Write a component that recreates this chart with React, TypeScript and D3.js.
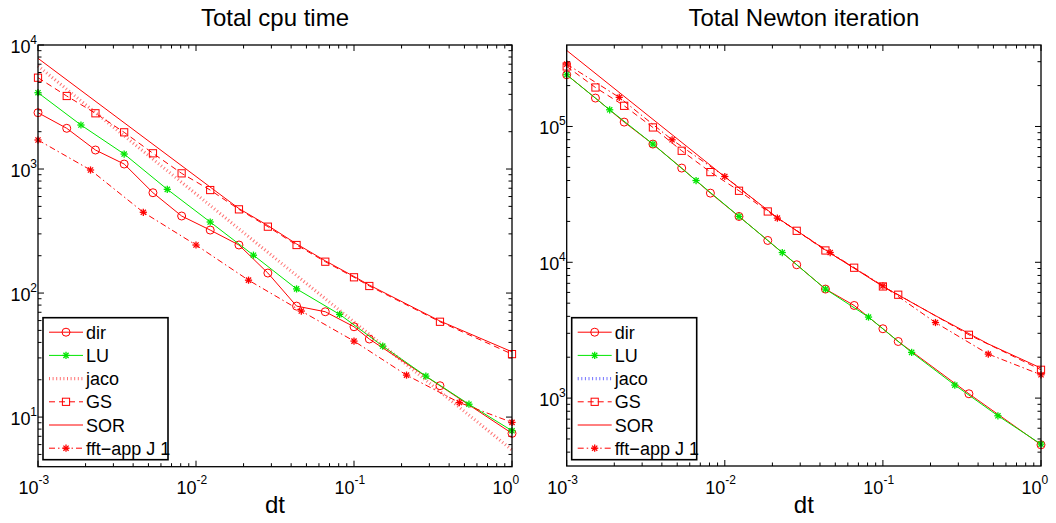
import React, { useEffect, useRef } from 'react';
import * as d3 from 'd3';

// dt grids used by the runs
const dtA = [0.001, 0.00152, 0.00231, 0.00351, 0.00534, 0.00811, 0.0123, 0.0187, 0.0285, 0.0433, 0.0658, 0.1, 0.125, 0.35, 1];
const dtB = [0.001, 0.00187, 0.00351, 0.00658, 0.0123, 0.0231, 0.0433, 0.0811, 0.152, 0.285, 0.534, 1];
const dtC = [0.001, 0.00215, 0.00464, 0.01, 0.0215, 0.0464, 0.1, 0.215, 0.464, 1];
const dtSorCpu = [0.001, 0.0187, 0.0285, 0.0433, 0.0658, 0.1, 0.125, 0.35, 1];
const dtSorNewton = [0.001, 0.01, 0.0215, 0.0464, 0.1, 0.215, 0.464, 1];

// Total cpu time
const cpuDir = [2845, 2130, 1423, 1097, 644, 418, 322, 244, 145, 78.5, 70.7, 53.5, 42.6, 17.9, 7.39];
const cpuLU = [4125, 2264, 1321, 686, 374, 202, 108, 67.3, 37.4, 21.4, 12.7, 7.76];
const cpuJaco = [6780, 3070, 1390, 630, 285, 129, 58.5, 26.5, 12.0, 5.43];
const cpuGS = [5450, 3880, 2815, 1977, 1339, 923, 677, 473, 343, 244, 179, 134, 114, 58.7, 32.2];
const cpuSOR = [7810, 480, 350, 249, 182, 136, 116, 59.5, 33.6];
const cpuFFT = [1714, 982, 448, 244, 127, 71.6, 41.0, 21.8, 13.1, 9.06];

// Total Newton iteration
const newDir = [240400, 161900, 107700, 74200, 49400, 32300, 21750, 14480, 9590, 6350, 4810, 3240, 2610, 1076, 453];
const newLU = [240400, 132700, 74200, 40000, 21750, 11800, 6350, 3950, 2170, 1247, 741, 458];
const newJaco: number[] = [];
const newGS = [276700, 193700, 142000, 98400, 66250, 46150, 33630, 23670, 17060, 12220, 9120, 6640, 5770, 2925, 1616];
const newSOR = [363000, 42600, 21300, 11680, 6640, 4045, 2505, 1663];
const newFFT = [288000, 163800, 79800, 42840, 21150, 11800, 6710, 3600, 2110, 1485];

const legendNames = ['dir', 'LU', 'jaco', 'GS', 'SOR', 'fft\u2212app J 1'];
const xTickExp = [-3, -2, -1, 0];

const RED = '#ff0000';
const GREEN = '#00e600';
const FONT = '"Liberation Sans", Arial, Helvetica, sans-serif';

function makeStyles(jacoColor) {
  return [
    { color: RED, dash: null, marker: 'circle', width: 1 },
    { color: GREEN, dash: null, marker: 'star', width: 1 },
    { color: jacoColor, dash: '1,2.6', marker: null, width: 3.2, opacity: 0.55 },
    { color: RED, dash: '6,4', marker: 'square', width: 1 },
    { color: RED, dash: null, marker: null, width: 1 },
    { color: RED, dash: '6,3,1.5,3', marker: 'star', width: 1 },
  ];
}

function drawMarker(g, type, x, y, color) {
  if (type === 'circle') {
    g.append('circle').attr('cx', x).attr('cy', y).attr('r', 4)
      .attr('fill', 'none').attr('stroke', color).attr('stroke-width', 1);
  } else if (type === 'square') {
    g.append('rect').attr('x', x - 3.6).attr('y', y - 3.6).attr('width', 7.2).attr('height', 7.2)
      .attr('fill', 'none').attr('stroke', color).attr('stroke-width', 1);
  } else if (type === 'star') {
    const r = 3.6, d = 2.6;
    const segs = [[-r, 0, r, 0], [0, -r, 0, r], [-d, -d, d, d], [-d, d, d, -d]];
    segs.forEach(s => {
      g.append('line').attr('x1', x + s[0]).attr('y1', y + s[1]).attr('x2', x + s[2]).attr('y2', y + s[3])
        .attr('stroke', color).attr('stroke-width', 1.3);
    });
  }
}

function drawPanel(svg, cfg) {
  const x = d3.scaleLog().domain([1e-3, 1]).range([cfg.left, cfg.right]);
  const y = d3.scaleLog().domain(cfg.yDomain).range([cfg.bottom, cfg.top]);
  const g = svg.append('g');

  // title
  g.append('text').attr('x', (cfg.left + cfg.right) / 2).attr('y', 26)
    .attr('text-anchor', 'middle').attr('font-size', 24).attr('font-family', FONT).text(cfg.title);

  // ticks on all four sides
  const tk = g.append('g').attr('stroke', '#000').attr('stroke-width', 1);
  for (let e = -3; e <= 0; e++) {
    for (let m = 1; m <= 9; m++) {
      const v = m * Math.pow(10, e);
      if (v > 1.0001) continue;
      const len = m === 1 ? 6 : 3.5;
      const px = x(v);
      tk.append('line').attr('x1', px).attr('x2', px).attr('y1', cfg.bottom).attr('y2', cfg.bottom - len);
      tk.append('line').attr('x1', px).attr('x2', px).attr('y1', cfg.top).attr('y2', cfg.top + len);
    }
  }
  const [y0, y1] = cfg.yDomain;
  for (let e = Math.floor(Math.log10(y0)); e <= Math.ceil(Math.log10(y1)); e++) {
    for (let m = 1; m <= 9; m++) {
      const v = m * Math.pow(10, e);
      if (v < y0 * 0.999 || v > y1 * 1.001) continue;
      const len = m === 1 ? 6 : 3.5;
      const py = y(v);
      tk.append('line').attr('x1', cfg.left).attr('x2', cfg.left + len).attr('y1', py).attr('y2', py);
      tk.append('line').attr('x1', cfg.right).attr('x2', cfg.right - len).attr('y1', py).attr('y2', py);
    }
  }

  // x tick labels
  xTickExp.forEach(e => {
    const px = x(Math.pow(10, e));
    g.append('text').attr('x', px + 0.5).attr('y', 494).attr('text-anchor', 'end')
      .attr('font-size', 18).attr('font-family', FONT).text('10');
    g.append('text').attr('x', px + 0.5).attr('y', 484).attr('text-anchor', 'start')
      .attr('font-size', 12).attr('font-family', FONT).text(String(e));
  });
  // y tick labels
  cfg.yTickExp.forEach(e => {
    const py = y(Math.pow(10, e));
    g.append('text').attr('x', cfg.left - 1).attr('y', py - 1).attr('text-anchor', 'end')
      .attr('font-size', 12).attr('font-family', FONT).text(String(e));
    g.append('text').attr('x', cfg.left - 7.5).attr('y', py + 8).attr('text-anchor', 'end')
      .attr('font-size', 18).attr('font-family', FONT).text('10');
  });

  // x label
  g.append('text').attr('x', (cfg.left + cfg.right) / 2).attr('y', 513)
    .attr('text-anchor', 'middle').attr('font-size', 24).attr('font-family', FONT).text('dt');

  // series
  const styles = makeStyles(cfg.jacoColor);
  const line = d3.line().x(d => x(d[0])).y(d => y(d[1]));
  const sg = g.append('g');
  cfg.series.forEach((s, i) => {
    const st = styles[i];
    const pts = s.dt.map((d, k) => [d, s.v[k]]).filter(p => p[1] !== undefined);
    if (!pts.length) return;
    const p = sg.append('path').attr('d', line(pts)).attr('fill', 'none')
      .attr('stroke', st.color).attr('stroke-width', st.width);
    if (st.dash) p.attr('stroke-dasharray', st.dash);
    if (st.opacity) p.attr('stroke-opacity', st.opacity);
    if (st.marker) pts.forEach(pt => drawMarker(sg, st.marker, x(pt[0]), y(pt[1]), st.color));
  });

  // box
  g.append('rect').attr('x', cfg.left).attr('y', cfg.top)
    .attr('width', cfg.right - cfg.left).attr('height', cfg.bottom - cfg.top)
    .attr('fill', 'none').attr('stroke', '#000').attr('stroke-width', 1.3);

  // legend
  const lx = cfg.left + 5, ly = 317.7, lw = 125, lh = 142;
  const lg = g.append('g');
  lg.append('rect').attr('x', lx).attr('y', ly).attr('width', lw).attr('height', lh)
    .attr('fill', '#fff').attr('stroke', '#000').attr('stroke-width', 1.6);
  legendNames.forEach((name, i) => {
    const st = styles[i];
    const ry = ly + 14.5 + i * 23.2;
    const l = lg.append('line').attr('x1', lx + 6).attr('x2', lx + 40).attr('y1', ry).attr('y2', ry)
      .attr('stroke', st.color).attr('stroke-width', st.width);
    if (st.dash) l.attr('stroke-dasharray', st.dash);
    if (st.opacity) l.attr('stroke-opacity', st.opacity);
    if (st.marker) drawMarker(lg, st.marker, lx + 23, ry, st.color);
    lg.append('text').attr('x', lx + 43).attr('y', ry + 6.5)
      .attr('font-size', 18).attr('font-family', FONT).text(name);
  });
}

export default function App() {
  const ref = useRef(null);
  useEffect(() => {
    const svg = d3.select(ref.current);
    svg.selectAll('*').remove();
    drawPanel(svg, {
      title: 'Total cpu time', left: 38, right: 512, top: 45, bottom: 466.7,
      yDomain: [Math.pow(10, 0.6), 1e4], yTickExp: [1, 2, 3, 4], jacoColor: RED,
      series: [
        { dt: dtA, v: cpuDir }, { dt: dtB, v: cpuLU }, { dt: dtC, v: cpuJaco },
        { dt: dtA, v: cpuGS }, { dt: dtSorCpu, v: cpuSOR }, { dt: dtC, v: cpuFFT },
      ],
    });
    drawPanel(svg, {
      title: 'Total Newton iteration', left: 566.7, right: 1041, top: 45, bottom: 466,
      yDomain: [Math.pow(10, 2.5), Math.pow(10, 5.6)], yTickExp: [3, 4, 5], jacoColor: '#0000ff',
      series: [
        { dt: dtA, v: newDir }, { dt: dtB, v: newLU }, { dt: dtC, v: newJaco },
        { dt: dtA, v: newGS }, { dt: dtSorNewton, v: newSOR }, { dt: dtC, v: newFFT },
      ],
    });
  }, []);
  return (
    <svg ref={ref} width={1056} height={523}
      style={{ position: 'absolute', left: 0, top: 0, background: '#fff' }} />
  );
}
